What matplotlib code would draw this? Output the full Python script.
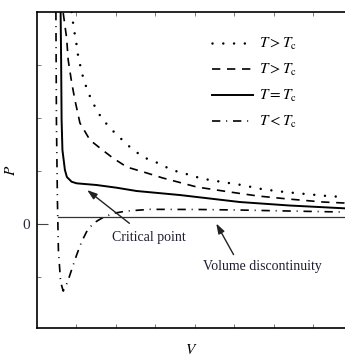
import numpy as np
import matplotlib.pyplot as plt

plt.rcParams['font.family'] = 'Liberation Serif'
plt.rcParams['mathtext.fontset'] = 'stix'

# isotherms (V, P)
v_hot = [0.878, 0.919, 0.962, 1.005, 1.046, 1.106, 1.172, 1.258, 1.359, 1.486, 1.620, 1.765,
         1.975, 2.354, 2.684, 3.063, 3.418, 3.873, 4.127, 4.380, 5.182, 5.722, 6.278, 6.803, 7.359, 7.797]
p_hot = [4.0, 3.774, 3.566, 3.377, 3.151, 2.962, 2.755, 2.566, 2.377, 2.189, 2.019, 1.887,
         1.717, 1.453, 1.264, 1.151, 1.019, 0.925, 0.868, 0.830, 0.736, 0.655, 0.604, 0.566, 0.528, 0.509]

v_warm = [0.666, 0.752, 0.792, 0.878, 0.962, 1.089, 1.342, 1.595, 1.924, 2.278, 2.785, 3.190,
          4.051, 4.886, 5.603, 6.362, 7.248, 7.797]
p_warm = [3.981, 3.509, 3.094, 2.679, 2.340, 1.906, 1.585, 1.434, 1.245, 1.075, 0.962, 0.868,
          0.698, 0.604, 0.528, 0.472, 0.415, 0.396]

v_crit = [0.600, 0.613, 0.625, 0.646, 0.709, 0.759, 0.878, 1.005, 1.511, 2.018, 2.524, 3.620,
          5.139, 6.405, 7.797]
p_crit = [4.0, 3.094, 1.962, 1.396, 1.019, 0.887, 0.798, 0.768, 0.736, 0.685, 0.623, 0.547,
          0.415, 0.349, 0.296]

v_cold = [0.481, 0.494, 0.519, 0.544, 0.600, 0.666, 0.734, 0.792, 0.904, 1.005, 1.132, 1.258,
          1.425, 1.638, 1.932, 2.271, 2.861, 4.127, 5.139, 6.405, 7.797]
p_cold = [4.0, 1.962, 0.453, -0.491, -1.094, -1.264, -1.170, -1.057, -0.806, -0.585, -0.334, -0.145,
          0.013, 0.108, 0.202, 0.245, 0.277, 0.274, 0.264, 0.245, 0.226]

p_flat = 0.142
v_flat = [0.532, 7.8]

labels = [r'$T > T_\mathrm{c}$', r'$T > T_\mathrm{c}$', r'$T = T_\mathrm{c}$', r'$T < T_\mathrm{c}$']

fig = plt.figure(figsize=(3.45, 3.58), dpi=100)
ax = fig.add_axes([0.107, 0.084, 0.893, 0.8825])

ax.plot(v_hot, p_hot, color='k', lw=1.8, linestyle=(0, (0.01, 4.3)), dash_capstyle='round', label=labels[0])
ax.plot(v_warm, p_warm, color='k', lw=1.2, linestyle=(0, (5, 4)), label=labels[1])
ax.plot(v_crit, p_crit, color='k', lw=1.4, linestyle='-', label=labels[2])
ax.plot(v_cold, p_cold, color='k', lw=1.2, linestyle=(0, (5, 3.5, 0.6, 3.5)), label=labels[3])
ax.plot(v_flat, [p_flat, p_flat], color='#333333', lw=0.9)

ax.set_xlim(0, 7.8)
ax.set_ylim(-1.96, 4.0)

ax.set_xticks([1, 2, 3, 4, 5, 6, 7])
ax.set_xticklabels([])
ax.set_yticks([0])
ax.set_yticks([-1, 1, 2, 3], minor=True)
ax.set_yticklabels(['0'], fontsize=11, color='#2a2a40')
ax.tick_params(axis='x', direction='in', length=3, width=0.6, color='#666666', top=True)
ax.tick_params(axis='y', which='major', direction='in', length=8, width=0.8, color='#444444', pad=5)
ax.tick_params(axis='y', which='minor', direction='in', length=3, width=0.6, color='#666666')
ax.spines['right'].set_visible(False)
for s in ['left', 'bottom', 'top']:
    ax.spines[s].set_linewidth(1.2)

ax.set_xlabel(r'$V$', fontsize=11, labelpad=7)
ax.set_ylabel(r'$P$', fontsize=11, labelpad=3)

ax.text(2.835, -0.245, 'Critical point', fontsize=10, ha='center', va='center', color='#1e1e30')
ax.annotate('', xy=(1.215, 0.674), xytext=(2.397, -0.019),
            arrowprops=dict(arrowstyle='-|>,head_length=0.6,head_width=0.2', color='#222222', lw=1))
ax.text(5.722, -0.792, 'Volume discontinuity', fontsize=10, ha='center', va='center', color='#1e1e30')
ax.annotate('', xy=(4.506, 0.057), xytext=(5.013, -0.623),
            arrowprops=dict(arrowstyle='-|>,head_length=0.6,head_width=0.2', color='#222222', lw=1))

ax.legend(loc='upper left', bbox_to_anchor=(212 / 345, 1 - 36 / 358), bbox_transform=fig.transFigure,
          frameon=False, fontsize=11, handlelength=2.7, handletextpad=0.4, labelspacing=0.65,
          borderpad=0, borderaxespad=0)

fig.savefig('out.png', dpi=100)
